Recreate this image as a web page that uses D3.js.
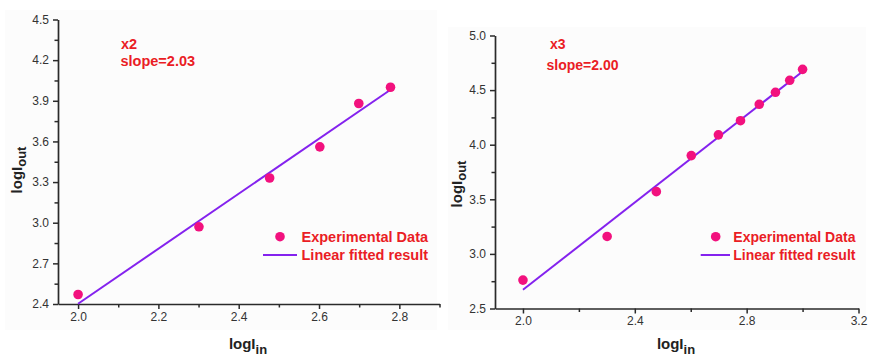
<!DOCTYPE html>
<html>
<head>
<meta charset="utf-8">
<script src="https://cdn.jsdelivr.net/npm/d3@7"></script>
<style>
  html, body { margin: 0; padding: 0; background: #fff; }
  svg { display: block; font-family: "Liberation Sans", Arial, sans-serif; }
</style>
</head>
<body>
<svg id="chart" width="870" height="358"></svg>
<script>
// Second harmonic (x2): log of input vs log of output
const inLogX2  = [2.000, 2.301, 2.477, 2.602, 2.699, 2.778];
const outLogX2 = [2.47, 2.97, 3.33, 3.56, 3.88, 4.00];
const slopeX2 = 2.03;
const interceptX2 = -1.658;

// Third harmonic (x3)
const inLogX3  = [2.000, 2.301, 2.477, 2.602, 2.699, 2.778, 2.845, 2.903, 2.954, 3.000];
const outLogX3 = [2.76, 3.16, 3.57, 3.90, 4.09, 4.22, 4.37, 4.48, 4.59, 4.69];
const slopeX3 = 2.00;
const interceptX3 = -1.329;

// Axis ticks
const xMajorX2 = [2.0, 2.2, 2.4, 2.6, 2.8];
const xMinorX2 = [2.1, 2.3, 2.5, 2.7, 2.9];
const yMajorX2 = [2.4, 2.7, 3.0, 3.3, 3.6, 3.9, 4.2, 4.5];
const yMinorX2 = [2.55, 2.85, 3.15, 3.45, 3.75, 4.05, 4.35];
const xMajorX3 = [2.0, 2.4, 2.8, 3.2];
const xMinorX3 = [2.2, 2.6, 3.0];
const yMajorX3 = [2.5, 3.0, 3.5, 4.0, 4.5, 5.0];
const yMinorX3 = [2.75, 3.25, 3.75, 4.25, 4.75];

const legendLabels = ["Experimental Data", "Linear fitted result"];

const COLORS = { axis: "#2a2a2a", text: "#333", marker: "#f2117e", fit: "#8422ee", note: "#ea1d25" };

const svg = d3.select("#chart");

function drawPanel(p) {
  const g = svg.append("g");

  // faint panel backdrop
  g.append("rect").attr("x", p.bg[0]).attr("y", p.bg[1]).attr("width", p.bg[2]).attr("height", p.bg[3])
    .attr("fill", "#fcfcfc");

  const x = d3.scaleLinear().domain(p.xDomain).range(p.xRange);
  const y = d3.scaleLinear().domain(p.yDomain).range(p.yRange);
  const fmt = d3.format(".1f");

  // minor ticks
  g.append("g").attr("transform", `translate(0,${p.yRange[0]})`)
    .call(d3.axisBottom(x).tickValues(p.xMinor).tickSize(3.5).tickFormat(""))
    .call(a => a.select(".domain").remove());
  g.append("g").attr("transform", `translate(${p.xRange[0]},0)`)
    .call(d3.axisLeft(y).tickValues(p.yMinor).tickSize(3.5).tickFormat(""))
    .call(a => a.select(".domain").remove());

  // major axes
  const xa = g.append("g").attr("transform", `translate(0,${p.yRange[0]})`)
    .call(d3.axisBottom(x).tickValues(p.xMajor).tickSize(5).tickSizeOuter(0).tickPadding(3).tickFormat(fmt));
  const ya = g.append("g").attr("transform", `translate(${p.xRange[0]},0)`)
    .call(d3.axisLeft(y).tickValues(p.yMajor).tickSize(5).tickSizeOuter(0).tickPadding(4).tickFormat(fmt));

  g.selectAll(".tick line, .domain").attr("stroke", COLORS.axis).attr("stroke-width", 1.5);
  g.selectAll(".domain").attr("stroke-width", 1.7);
  [xa, ya].forEach(a => a.selectAll("text").attr("fill", COLORS.text)
    .style("font-size", "12px").style("font-family", "'Liberation Sans', Arial, sans-serif"));

  // fitted line across the data range
  const xs = d3.extent(p.xs);
  g.append("line")
    .attr("x1", x(xs[0])).attr("y1", y(p.intercept + p.slope * xs[0]))
    .attr("x2", x(xs[1])).attr("y2", y(p.intercept + p.slope * xs[1]))
    .attr("stroke", COLORS.fit).attr("stroke-width", 2);

  // measured points
  g.selectAll("circle.pt").data(p.xs.map((v, i) => [v, p.ys[i]])).join("circle")
    .attr("class", "pt").attr("cx", d => x(d[0])).attr("cy", d => y(d[1])).attr("r", 4.8)
    .attr("fill", COLORS.marker);

  // annotation
  g.append("text").attr("x", p.note[0]).attr("y", p.note[1]).attr("fill", COLORS.note)
    .attr("font-weight", "bold").style("font-size", p.fs + "px").text(p.label);
  g.append("text").attr("x", p.note[2]).attr("y", p.note[3]).attr("fill", COLORS.note)
    .attr("font-weight", "bold").style("font-size", p.fs + "px").text("slope=" + p.slope.toFixed(2));

  // legend
  const L = p.legend;
  g.append("circle").attr("cx", L.mx).attr("cy", L.y1 - 5).attr("r", 4.8).attr("fill", COLORS.marker);
  g.append("line").attr("x1", L.l1).attr("x2", L.l2).attr("y1", L.y2 - 4.5).attr("y2", L.y2 - 4.5)
    .attr("stroke", COLORS.fit).attr("stroke-width", 2);
  g.selectAll("text.leg").data(legendLabels).join("text").attr("class", "leg")
    .attr("x", L.tx).attr("y", (d, i) => i ? L.y2 : L.y1)
    .attr("fill", COLORS.note).attr("font-weight", "bold").style("font-size", p.fs + "px").text(d => d);

  // axis titles
  const xt = g.append("text").attr("x", p.xTitle[0]).attr("y", p.xTitle[1]).attr("text-anchor", "middle")
    .attr("font-weight", "bold").attr("fill", "#222").style("font-size", "15px");
  xt.append("tspan").text("logI");
  xt.append("tspan").attr("dy", 5).style("font-size", "13px").text("in");

  const yt = g.append("text").attr("transform", `translate(${p.yTitle[0]},${p.yTitle[1]}) rotate(-90)`)
    .attr("text-anchor", "middle").attr("font-weight", "bold").attr("fill", "#222").style("font-size", "15px");
  yt.append("tspan").text("logI");
  yt.append("tspan").attr("dy", 4).style("font-size", "13px").text("out");
}

drawPanel({
  bg: [5, 10, 432, 320],
  xDomain: [1.95, 2.9], xRange: [58, 439.5],
  yDomain: [2.4, 4.5], yRange: [304, 19.5],
  xMajor: xMajorX2, xMinor: xMinorX2, yMajor: yMajorX2, yMinor: yMinorX2,
  xs: inLogX2, ys: outLogX2, slope: slopeX2, intercept: interceptX2,
  label: "x2", note: [121, 48.5, 120.5, 65.5], fs: 14.5,
  legend: { mx: 280, tx: 301.5, l1: 263, l2: 297, y1: 241.7, y2: 259.5 },
  xTitle: [248, 349], yTitle: [22, 170]
});

drawPanel({
  bg: [448, 27, 418, 303],
  xDomain: [1.9, 3.2], xRange: [495, 858.5],
  yDomain: [2.5, 5.0], yRange: [308.5, 35.5],
  xMajor: xMajorX3, xMinor: xMinorX3, yMajor: yMajorX3, yMinor: yMinorX3,
  xs: inLogX3, ys: outLogX3, slope: slopeX3, intercept: interceptX3,
  label: "x3", note: [550, 49, 546.5, 69.5], fs: 14,
  legend: { mx: 715.7, tx: 733.3, l1: 700.7, l2: 730, y1: 241.7, y2: 259.5 },
  xTitle: [676, 349], yTitle: [462, 184]
});
</script>
</body>
</html>
